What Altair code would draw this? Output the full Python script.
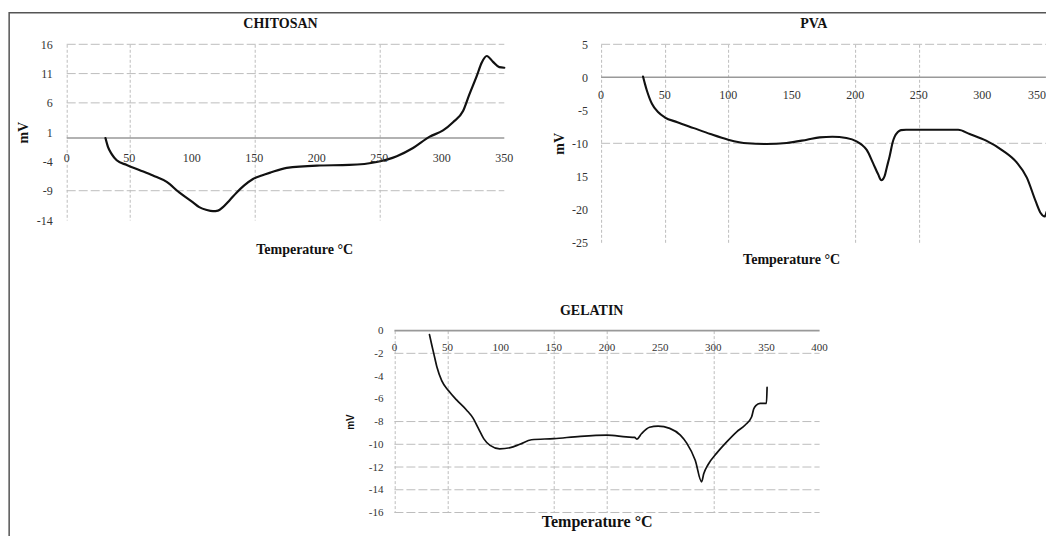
import json
import altair as alt
import pandas as pd

# ---------------- data ----------------
chi_temp = [31, 33, 36, 40, 48, 58, 69, 80, 90, 101, 106, 112, 117, 121, 125, 130, 136, 142, 149, 156,
            163, 176, 200, 226, 248, 264, 277, 290, 301, 309, 317, 322, 328, 332, 336, 341, 346, 350]
chi_mv = [0, -1.5, -2.75, -3.8, -4.6, -5.45, -6.4, -7.5, -9.3, -11.0, -11.8, -12.3, -12.5, -12.4, -11.8,
          -10.7, -9.3, -8.1, -7.0, -6.4, -5.9, -5.1, -4.7, -4.6, -4.1, -3.1, -1.7, 0.2, 1.3, 2.7, 4.6,
          7.4, 10.6, 12.9, 14.0, 13.0, 12.1, 12.0]
chi_y_ticks = [16, 11, 6, 1, -4, -9, -14]
chi_y_labels = ["16", "11", "6", "1", "-4", "-9", "-14"]
chi_x_ticks = [0, 50, 100, 150, 200, 250, 300, 350]
chi_x_labels = ["0", "50", "100", "150", "200", "250", "300", "350"]
chi_x_grid = [0, 50, 150, 250]
chi_y_grid = [16, 11, 6, -9]

pva_temp = [33, 34.5, 36, 38, 40, 45, 50, 60, 73, 86, 100, 115, 130, 146, 162, 172, 182, 193, 201, 205,
            209, 214, 218, 220.5, 223, 225, 227, 229.5, 231, 233.5, 236, 240, 256, 281, 290, 303, 316,
            327, 335, 342, 346, 349, 350.5]
pva_mv = [0.1, -1.0, -2.0, -3.1, -4.0, -5.3, -6.06, -6.8, -7.7, -8.6, -9.45, -10.0, -10.1, -9.95, -9.45,
          -9.1, -9.0, -9.2, -9.7, -10.2, -11.0, -13.0, -14.7, -15.6, -15.0, -13.5, -12.0, -9.8, -9.0,
          -8.3, -8.0, -7.95, -7.95, -7.95, -8.6, -9.6, -11.1, -12.9, -15.2, -18.8, -20.6, -21.1, -20.4]
pva_y_ticks = [5, 0, -5, -10, -15, -20, -25]
pva_y_labels = ["5", "0", "-5", "-10", "15", "-20", "-25"]
pva_x_ticks = [0, 50, 100, 150, 200, 250, 300, 350]
pva_x_labels = ["0", "50", "100", "150", "200", "250", "300", "350"]
pva_x_grid = [0, 50, 100, 200, 250]
pva_y_grid = [5, -10]

gel_temp = [33, 35, 37, 40, 44.5, 51, 58.5, 68, 74, 79, 84, 90, 99, 109, 118, 129, 150, 175, 200, 218,
            226, 228, 232.6, 240, 248, 259, 269, 275, 283, 289, 291, 295, 303, 312.5, 322, 330, 336,
            338, 340, 344, 350, 350.6]
gel_mv = [-0.35, -1.2, -2.0, -3.2, -4.4, -5.3, -6.1, -7.0, -7.7, -8.6, -9.5, -10.1, -10.4, -10.3, -10.0,
          -9.6, -9.5, -9.3, -9.2, -9.35, -9.4, -9.55, -9.05, -8.5, -8.4, -8.6, -9.2, -9.9, -11.4, -13.3,
          -12.6, -11.8, -10.8, -9.8, -8.9, -8.3, -7.6, -6.9, -6.6, -6.4, -6.4, -5.0]
gel_y_ticks = [0, -2, -4, -6, -8, -10, -12, -14, -16]
gel_y_labels = ["0", "-2", "-4", "-6", "-8", "-10", "-12", "-14", "-16"]
gel_x_ticks = [0, 50, 100, 150, 200, 250, 300, 350, 400]
gel_x_labels = ["0", "50", "100", "150", "200", "250", "300", "350", "400"]
gel_x_grid = [0, 50, 150, 200, 300]
gel_y_grid = [-2, -8, -10, -12, -14, -16]

SERIF = "Liberation Serif"
SANS = "Liberation Sans"
GRID = "#bdbdbd"


def panel(title, temp, mv, xdom, ydom, x_ticks, x_labels, x_grid, y_ticks, y_labels, y_grid,
          W, H, s):
    if "xrange" in s:
        xs = alt.Scale(domain=xdom, range=s["xrange"], nice=False, zero=False)
    else:
        xs = alt.Scale(domain=xdom, nice=False, zero=False)
    ys = alt.Scale(domain=ydom, nice=False, zero=False)
    label_expr = f"{json.dumps(y_labels)}[indexof({json.dumps(y_ticks)}, datum.value)]"

    x_axis = alt.Axis(values=x_grid, grid=True, gridColor=GRID, gridDash=[3, 2], gridWidth=1,
                      labels=False, ticks=False, domain=False,
                      title="Temperature °C", titleFont=SERIF, titleFontSize=s["xtsize"],
                      titleFontWeight="bold", titleColor="#111", titleBaseline="middle",
                      titleX=s["xtx"], titleY=s["xty"], titleAlign="center")
    y_axis = alt.Axis(values=y_ticks, labelExpr=label_expr, grid=False, ticks=False, tickSize=0,
                      domain=False, labelFont=SERIF, labelFontSize=s["lsize"], labelColor="#333",
                      labelPadding=s["ylpad"], title="mV", titleFont=s["ytfont"],
                      titleFontSize=s["ytsize"], titleFontWeight="bold", titleColor="#111",
                      titlePadding=s["ytpad"], offset=s.get("yoff", 0))

    X = lambda **kw: alt.X(scale=xs, axis=x_axis, **kw)
    Y = lambda **kw: alt.Y(scale=ys, axis=y_axis, **kw)

    hgrid = alt.Chart(pd.DataFrame({"g": y_grid})).mark_rule(
        color=GRID, strokeDash=[9, 3], strokeWidth=1).encode(
        x=X(datum=xdom[0]), x2=alt.X2(datum=xdom[1]), y=Y(field="g", type="quantitative"))
    zero = alt.Chart(pd.DataFrame({"z": [0]})).mark_rule(color="#999", strokeWidth=1.6).encode(
        x=X(datum=xdom[0]), x2=alt.X2(datum=xdom[1]), y=Y(field="z", type="quantitative"))
    line = alt.Chart(pd.DataFrame({"t": temp, "v": mv})).mark_line(
        color="#111", strokeWidth=s["lw"], interpolate="monotone", strokeCap="round",
        strokeJoin="round").encode(
        x=X(field="t", type="quantitative"),
        y=Y(field="v", type="quantitative"))

    def label_layer(ticks, labels, align):
        return alt.Chart(pd.DataFrame({"t": ticks, "lab": labels, "z": [0] * len(ticks)})).mark_text(
            dy=s["xdy"], font=SERIF, fontSize=s["lsize"], color="#333", align=align,
            baseline="middle").encode(
            x=X(field="t", type="quantitative"),
            y=Y(field="z", type="quantitative"),
            text="lab:N")

    if s.get("last_right"):
        # the last label sits at the right edge of the page: keep it inside the picture
        labs = [label_layer(x_ticks[:-1], x_labels[:-1], "center"),
                label_layer(x_ticks[-1:], x_labels[-1:], "right")]
    else:
        labs = [label_layer(x_ticks, x_labels, "center")]
    return alt.layer(hgrid, zero, line, *labs).properties(
        width=W, height=H,
        title=alt.TitleParams(title, font=SERIF, fontSize=14, fontWeight="bold", color="#111",
                              anchor="middle", frame="group", baseline="alphabetic",
                              offset=s["toff"], dx=s["tdx"]))


chi = panel("CHITOSAN", chi_temp, chi_mv, [0, 350], [-14, 16], chi_x_ticks, chi_x_labels,
            chi_x_grid, chi_y_ticks, chi_y_labels, chi_y_grid, 437.6, 175.7,
            dict(xtsize=14, xty=29, xtx=237.5, lsize=12, ylpad=14.5, ytfont=SERIF, ytsize=14,
                 ytpad=5.5, lw=2.2, xdy=20, toff=-3.9, tdx=-5))
pva = panel("PVA", pva_temp, pva_mv, [0, 350], [-25, 5], pva_x_ticks, pva_x_labels,
            pva_x_grid, pva_y_ticks, pva_y_labels, pva_y_grid, 444.8, 198,
            dict(xtsize=14, xty=17.4, xtx=190, lsize=12, ylpad=13.5, ytfont=SERIF, ytsize=14,
                 ytpad=5, lw=2.1, xdy=17.3, toff=-3.3, tdx=-9.7, last_right=True))
# gelatin sits in the first column; its scale range shifts the plot to the right
gel = panel("GELATIN", gel_temp, gel_mv, [0, 400], [-16, 0], gel_x_ticks, gel_x_labels,
            gel_x_grid, gel_y_ticks, gel_y_labels, gel_y_grid, 437.6, 181.9,
            dict(xtsize=16, xty=8.5, xtx=530, lsize=11, ylpad=11.5, ytfont=SANS, ytsize=10,
                 ytpad=12.5, lw=1.7, xdy=17.7, toff=-4.2, tdx=306.2,
                 xrange=[327.7, 752.9], yoff=-327.7))

# untitled helper cell that carries the outer frame of the figure
frame = alt.Chart(pd.DataFrame({"a": [0]})).mark_rect(
    fill="white", fillOpacity=0, stroke="#555", strokeWidth=1.5).encode(
    x=alt.value(-591.95), x2=alt.value(459.3), y=alt.value(-317.8), y2=alt.value(214.4)
).properties(width=1, height=1)

chart = alt.concat(
    chi, pva, gel, frame, columns=2,
    spacing={"row": 88.3, "column": 96.4},
    bounds="flush",
).properties(
    autosize=alt.AutoSizeParams(type="none"),
    padding={"left": 58.7, "top": 36.3, "right": 979.3, "bottom": 491.7},
    background="white",
).configure_view(stroke=None)

chart.save("out.html", embed_options={"renderer": "svg", "actions": False})
